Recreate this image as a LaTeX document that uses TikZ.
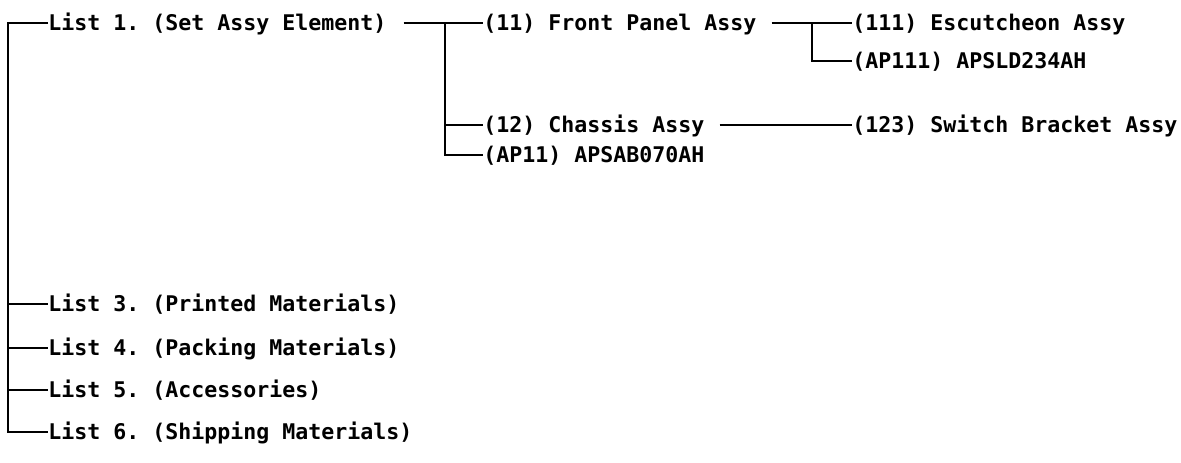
\documentclass[tikz,border=0pt]{standalone}
\usepackage{fontspec}
\setmonofont{DejaVu Sans Mono}
\usetikzlibrary{calc}

\begin{document}
\begin{tikzpicture}[x=0.75pt,y=-0.75pt,item/.style={anchor=west, inner sep=0pt, font=\ttfamily\bfseries\fontsize{16.2}{19}\selectfont, text height=11.8pt, text depth=0pt},link/.style={line width=1.5pt},trunkline/.style={line width=2pt}]
\useasboundingbox (0,0) rectangle (1181,462);
% lists
\node[item] (list1) at (48,23) {List 1. (Set Assy Element)};
\node[item] (list3) at (48,304) {List 3. (Printed Materials)};
\node[item] (list4) at (48,348) {List 4. (Packing Materials)};
\node[item] (list5) at (48,390) {List 5. (Accessories)};
\node[item] (list6) at (48,432) {List 6. (Shipping Materials)};
% assemblies
\node[item] (fp) at (483,23) {(11) Front Panel Assy};
\node[item] (chassis) at (483,125) {(12) Chassis Assy};
\node[item] (ap11) at (483,155) {(AP11) APSAB070AH};
\node[item] (esc) at (852,23) {(111) Escutcheon Assy};
\node[item] (ap111) at (852,61) {(AP111) APSLD234AH};
\node[item] (sb) at (852,125) {(123) Switch Bracket Assy};
% tree lines
\coordinate (trunk) at (8,23);
\coordinate (b1) at (445,23);
\coordinate (b2) at (812,23);
\draw[trunkline] (list1.west) -- (trunk) -- (trunk |- list6.west) -- (list6.west);
\foreach \n in {list3,list4,list5} \draw[link] (trunk |- \n.west) -- (\n.west);
\draw[link] ($(list1.east)+(17,0)$) -- (fp.west);
\draw[trunkline] (b1) |- (ap11.west);
\draw[link] (b1 |- chassis.west) -- (chassis.west);
\draw[link] ($(fp.east)+(15,0)$) -- (esc.west);
\draw[trunkline] (b2) |- (ap111.west);
\draw[link] ($(chassis.east)+(15,0)$) -- (sb.west);
\end{tikzpicture}
\end{document}
